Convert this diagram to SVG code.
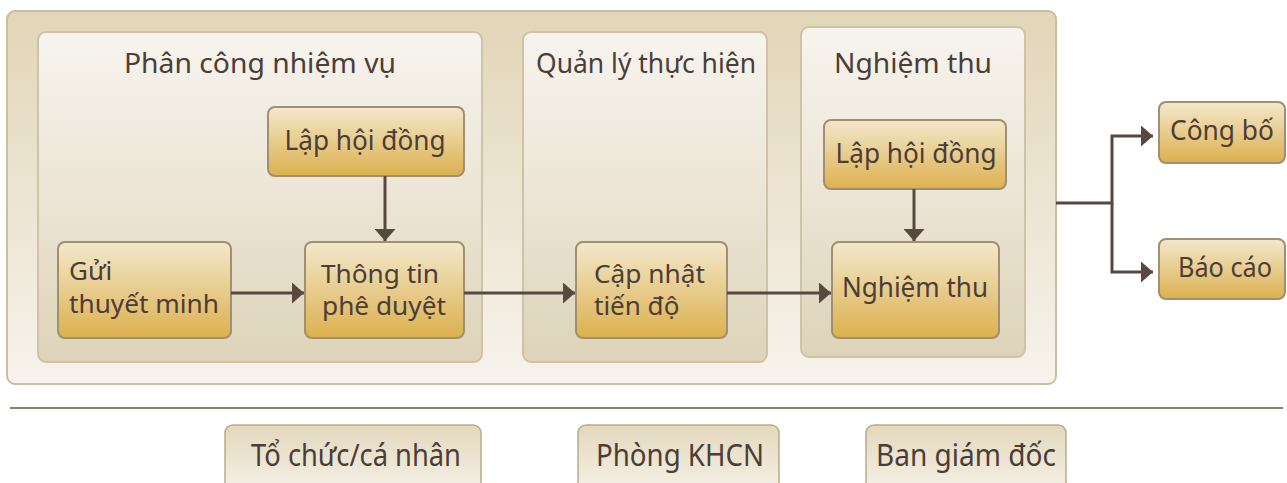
<svg xmlns="http://www.w3.org/2000/svg" width="1287" height="483" viewBox="0 0 1287 483">
<defs>
<linearGradient id="gOuter" x1="0" y1="0" x2="0" y2="1"><stop offset="0" stop-color="#e2d6b8"/><stop offset="1" stop-color="#f7f3ec"/></linearGradient>
<linearGradient id="gLane" x1="0" y1="0" x2="0" y2="1"><stop offset="0" stop-color="#f7f4ef"/><stop offset="0.5" stop-color="#ece5d5"/><stop offset="1" stop-color="#ddd3b9"/></linearGradient>
<linearGradient id="gNode" x1="0" y1="0" x2="0" y2="1"><stop offset="0" stop-color="#f3e8cc"/><stop offset="1" stop-color="#dcb04e"/></linearGradient>
<linearGradient id="gRole" x1="0" y1="0" x2="0" y2="1"><stop offset="0" stop-color="#e3d8bc"/><stop offset="1" stop-color="#f6f2e9"/></linearGradient>
<marker id="arr" markerUnits="userSpaceOnUse" markerWidth="13" markerHeight="21" refX="12" refY="10.5" orient="auto"><path d="M0,0 L12,10.5 L0,21 z" fill="#594840"/></marker>
</defs>
<style>
.outer{fill:url(#gOuter);stroke:#cbbd9f;stroke-width:2}
.lane{fill:url(#gLane);stroke:#cfc2a6;stroke-width:2}
.node{fill:url(#gNode);stroke:#a08f70;stroke-width:2}
.role{fill:url(#gRole);stroke:#b9aa8a;stroke-width:1.5}
text{font-family:"Noto Sans","Open Sans","DejaVu Sans",sans-serif;fill:#4b3d37}
.title{font-size:28px;text-anchor:middle}
.lbl{font-size:26px}
.big{font-size:27px}
.c{text-anchor:middle}
.rl{font-size:30px;text-anchor:middle}
.conn{fill:none;stroke:#594840;stroke-width:3}
.div{stroke:#8e7e66;stroke-width:2}
</style>
<g id="container"><rect class="outer" x="7" y="11" width="1049" height="373" rx="8"/></g>
<g id="lane-phan-cong"><rect class="lane" x="38" y="32" width="444" height="330" rx="8"/><text class="title" x="260" y="73" textLength="272" lengthAdjust="spacingAndGlyphs">Phân công nhiệm vụ</text></g>
<g id="lane-quan-ly"><rect class="lane" x="523" y="32" width="244" height="330" rx="8"/><text class="title" x="646" y="73" textLength="220" lengthAdjust="spacingAndGlyphs">Quản lý thực hiện</text></g>
<g id="lane-nghiem-thu"><rect class="lane" x="801" y="27" width="224" height="330" rx="8"/><text class="title" x="913" y="73" textLength="158" lengthAdjust="spacingAndGlyphs">Nghiệm thu</text></g>
<g id="node-lap-hoi-dong-1"><rect class="node" x="268" y="107" width="196" height="69" rx="7"/><text class="lbl big c" x="365" y="150" textLength="161" lengthAdjust="spacingAndGlyphs">Lập hội đồng</text></g>
<g id="node-gui"><rect class="node" x="58" y="242" width="173" height="96" rx="7"/><text class="lbl" x="69" y="280">Gửi</text><text class="lbl" x="69" y="313" textLength="150" lengthAdjust="spacingAndGlyphs">thuyết minh</text></g>
<g id="node-thong-tin"><rect class="node" x="305" y="242" width="159" height="96" rx="7"/><text class="lbl" x="321" y="283" textLength="118" lengthAdjust="spacingAndGlyphs">Thông tin</text><text class="lbl" x="322" y="315" textLength="124" lengthAdjust="spacingAndGlyphs">phê duyệt</text></g>
<g id="node-cap-nhat"><rect class="node" x="576" y="242" width="151" height="96" rx="7"/><text class="lbl" x="594" y="283" textLength="111" lengthAdjust="spacingAndGlyphs">Cập nhật</text><text class="lbl" x="594" y="315">tiến độ</text></g>
<g id="node-lap-hoi-dong-2"><rect class="node" x="824" y="120" width="182" height="69" rx="7"/><text class="lbl big c" x="916" y="163" textLength="161" lengthAdjust="spacingAndGlyphs">Lập hội đồng</text></g>
<g id="node-nghiem-thu"><rect class="node" x="832" y="242" width="167" height="96" rx="7"/><text class="lbl big c" x="915" y="297" textLength="146" lengthAdjust="spacingAndGlyphs">Nghiệm thu</text></g>
<g id="node-cong-bo"><rect class="node" x="1159" y="102" width="126" height="61" rx="7"/><text class="lbl big c" x="1222" y="140" textLength="104" lengthAdjust="spacingAndGlyphs">Công bố</text></g>
<g id="node-bao-cao"><rect class="node" x="1159" y="239" width="126" height="60" rx="7"/><text class="lbl big c" x="1225" y="277" textLength="94" lengthAdjust="spacingAndGlyphs">Báo cáo</text></g>
<g id="connectors">
<path class="conn" d="M385,176 V241" marker-end="url(#arr)"/>
<path class="conn" d="M231,293 H304" marker-end="url(#arr)"/>
<path class="conn" d="M464,293 H575" marker-end="url(#arr)"/>
<path class="conn" d="M727,293 H831" marker-end="url(#arr)"/>
<path class="conn" d="M914,189 V241" marker-end="url(#arr)"/>
<path class="conn" d="M1056,203 H1112 V136 H1153" marker-end="url(#arr)"/>
<path class="conn" d="M1112,203 V272 H1153" marker-end="url(#arr)"/>
</g>
<g id="divider"><line class="div" x1="10" y1="408" x2="1283" y2="408"/></g>
<g id="role-to-chuc"><rect class="role" x="225" y="425" width="256" height="70" rx="8"/><text class="rl" x="356" y="466" textLength="210" lengthAdjust="spacingAndGlyphs">Tổ chức/cá nhân</text></g>
<g id="role-phong-khcn"><rect class="role" x="578" y="425" width="201" height="70" rx="8"/><text class="rl" x="680" y="466" textLength="168" lengthAdjust="spacingAndGlyphs">Phòng KHCN</text></g>
<g id="role-ban-giam-doc"><rect class="role" x="866" y="425" width="200" height="70" rx="8"/><text class="rl" x="966" y="466" textLength="180" lengthAdjust="spacingAndGlyphs">Ban giám đốc</text></g>
</svg>
